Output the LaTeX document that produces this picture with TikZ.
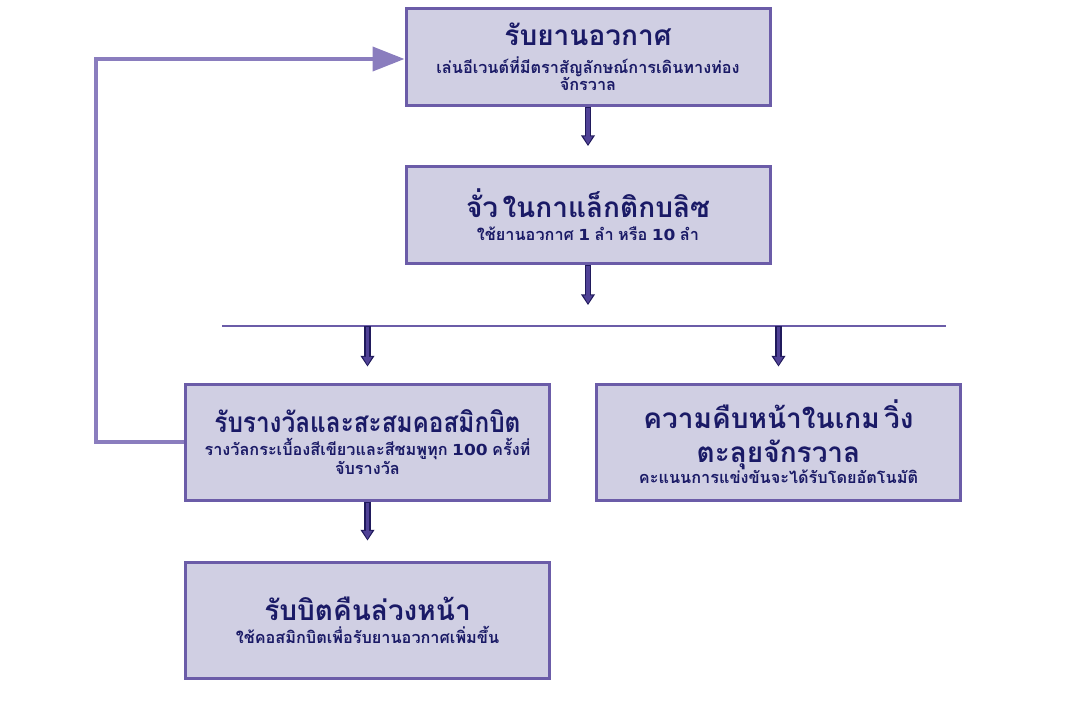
\documentclass[tikz,border=0pt]{standalone}
\usepackage{fontspec}
\newfontfamily\thaifont[Script=Thai]{Loma}
\newfontfamily\numfont[FakeStretch=1.12]{DejaVu Sans}
\usetikzlibrary{arrows.meta,positioning}
\definecolor{boxfill}{RGB}{208,207,227}
\definecolor{boxline}{RGB}{107,92,168}
\definecolor{ink}{RGB}{26,26,102}
\definecolor{arfill}{RGB}{80,66,150}
\definecolor{arline}{RGB}{32,26,92}
\definecolor{loopc}{RGB}{138,125,190}
\tikzset{
  stage/.style={draw=boxline,line width=2.25pt,fill=boxfill,minimum width=273pt,
    text width=266pt,align=center,text=ink,inner sep=2pt,font=\thaifont\bfseries},
  blockar/.style={draw=arline,line width=5pt,-{Triangle[length=8pt,width=10pt]},
    shorten >=#1,
    postaction={draw=arfill,line width=2.6pt,-{Triangle[length=6pt,width=6.6pt]},
      shorten >=#1+1.2pt,shorten <=0.8pt}},
  bar/.style={draw=boxline,line width=1.1pt},
  loopar/.style={draw=loopc,line width=3pt,-{Triangle[length=24pt,width=18pt]}},
}
\newcommand{\stitle}[1]{{\fontsize{21}{28}\selectfont #1\par}}
\newcommand{\ssub}[2][1.5pt]{{\vspace{#1}\fontsize{12.2}{15.8}\selectfont #2\par}}
\newcommand{\dg}[1]{{\numfont\fontsize{11.4}{12}\selectfont #1}}

\begin{document}
\begin{tikzpicture}[x=0.75pt,y=-0.75pt]
  \useasboundingbox (0,0) rectangle (1074,726);
  % stages
  \node[stage,minimum height=72.75pt] (launch) at (588,56.5)
    {\stitle{รับยานอวกาศ}
     \ssub[5pt]{เล่นอีเวนต์ที่มีตราสัญลักษณ์การเดินทางท่อง\\[-3pt]จักรวาล}};
  \node[stage,minimum height=72.75pt] (warp) at (588,215)
    {\stitle{จั่ว ในกาแล็กติกบลิซ}
     \ssub{ใช้ยานอวกาศ \dg{1} ลำ หรือ \dg{10} ลำ}};
  \node[stage,minimum height=87pt] (reward) at (367.5,442)
    {\stitle{\scalebox{0.87}[1]{รับรางวัลและสะสมคอสมิกบิต}}
     \ssub{รางวัลกระเบื้องสีเขียวและสีชมพูทุก \dg{100} ครั้งที่\\[-1pt]จับรางวัล}};
  \node[stage,minimum height=87pt] (race) at (778.5,442)
    {\stitle{ความคืบหน้าในเกม วิ่ง\\[-2.5pt]ตะลุยจักรวาล}
     \ssub[0pt]{คะแนนการแข่งขันจะได้รับโดยอัตโนมัติ}};
  \node[stage,minimum height=87pt] (refund) at (367.5,620)
    {\stitle{รับบิตคืนล่วงหน้า}
     \ssub{ใช้คอสมิกบิตเพื่อรับยานอวกาศเพิ่มขึ้น}};
  % split bar
  \coordinate (barL) at (222,326);
  \coordinate (barR) at (946,326);
  \coordinate (barM) at (588,326);
  \draw[bar] (barL) -- (barR);
  % arrows
  \draw[blockar=14.25pt] (launch.south) -- (warp.north);
  \draw[blockar=15.75pt] (warp.south) -- (barM);
  \draw[blockar=12pt] (reward.north |- barL) -- (reward.north);
  \draw[blockar=12pt] (race.north |- barL) -- (race.north);
  \draw[blockar=15pt] (reward.south) -- (refund.north);
  % return loop
  \coordinate (ret) at (96,59);
  \draw[loopar] (reward.west) -| (ret) -- (ret -| launch.west);
\end{tikzpicture}
\end{document}
